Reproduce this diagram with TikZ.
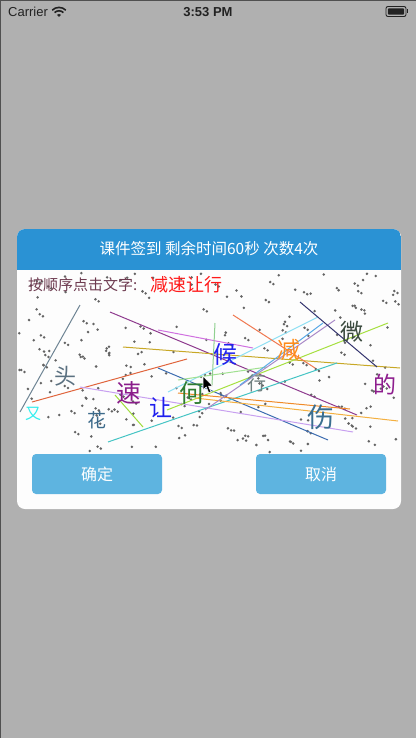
\documentclass[tikz,border=0pt]{standalone}
\usepackage{fontspec}
\setmainfont{Liberation Sans}
\newfontfamily\cjk{Noto Sans CJK SC}
\definecolor{bgc}{HTML}{B0B0B0}
\definecolor{edgec}{HTML}{505050}
\definecolor{hdr}{HTML}{2A92D4}
\definecolor{body}{HTML}{FDFDFD}
\definecolor{btn}{HTML}{5EB4E0}
\definecolor{dotc}{HTML}{646464}
\definecolor{instr}{HTML}{6E3B50}
\definecolor{redc}{HTML}{FF1A1A}
\definecolor{sbar}{HTML}{222222}
\tikzset{
  ch/.style={inner sep=0pt, font=\cjk\fontsize{#1}{#1}\selectfont},
  noise/.style={line width=1pt},
  speck/.style={fill=dotc},
}
\begin{document}
\begin{tikzpicture}[x=1pt,y=-1pt]
\useasboundingbox (0,0) rectangle (416,738);
% background overlay
\fill[bgc] (0,0) rectangle (416,738);
\draw[edgec,line width=1.2pt] (0.6,738) -- (0.6,0.6) -- (416,0.6);
% status bar
\node[anchor=west,inner sep=0pt,text=sbar,font=\fontsize{13}{13}\selectfont] (carrier) at (8,12) {Carrier};
\fill[sbar] (59,17) -- ++(-45:3) arc (-45:-135:3) -- cycle;
\draw[sbar,line width=1.6pt] ([shift={(-45:6.2)}]59,17) arc (-45:-135:6.2);
\draw[sbar,line width=1.6pt] ([shift={(-45:9.6)}]59,17) arc (-45:-135:9.6);
\node[inner sep=0pt,text=sbar,font=\bfseries\fontsize{13}{13}\selectfont] (clock) at (208,12) {3:53 PM};
\draw[sbar,line width=0.9pt,rounded corners=2] (386,6.5) rectangle (406,16.5);
\fill[sbar,rounded corners=1] (387.8,8.3) rectangle (404.2,14.7);
\fill[sbar] (407,9.5) rectangle (408.3,13.5);
% dialog
\fill[body,rounded corners=8] (17,229) rectangle (401,509);
\begin{scope}
  \clip[rounded corners=8] (17,229) rectangle (401,509);
  \fill[hdr] (17,229) rectangle (401,270);
\end{scope}
\node[inner sep=0pt,text=white,font=\cjk\fontsize{15.5}{16}\selectfont] (title) at (209,249) {课件签到 剩余时间60秒 次数4次};
% noise dots
\pgfmathsetseed{4242}
\foreach \i in {1,...,170}{
  \pgfmathsetmacro\dx{19+380*rnd}
  \pgfmathsetmacro\dy{273+180*rnd}
  \fill[speck] (\dx,\dy-1.4) -- (\dx+1.4,\dy) -- (\dx,\dy+1.4) -- (\dx-1.4,\dy) -- cycle;
}
\foreach \i in {1,...,60}{
  \pgfmathsetmacro\dx{19+376*rnd}
  \pgfmathsetmacro\dy{273+176*rnd}
  \fill[speck] (\dx,\dy-1.4) -- (\dx+1.4,\dy) -- (\dx,\dy+1.4) -- (\dx-1.4,\dy) -- cycle;
  \fill[speck] (\dx+3.2,\dy+0.6) -- (\dx+4.6,\dy+2) -- (\dx+3.2,\dy+3.4) -- (\dx+1.8,\dy+2) -- cycle;
}
% noise lines
\draw[noise,color={rgb,255:red,110;green,132;blue,148}] (80,305) -- (20,412);
\draw[noise,color={rgb,255:red,142;green,58;blue,142}] (110,312) -- (357,415);
\draw[noise,color={rgb,255:red,208;green,112;blue,224}] (158,330) -- (253,348);
\draw[noise,color={rgb,255:red,200;green,168;blue,38}] (123,347) -- (400,368);
\draw[noise,color={rgb,255:red,224;green,100;blue,60}] (32,402) -- (187,359);
\draw[noise,color={rgb,255:red,60;green,108;blue,176}] (158,368) -- (328,440);
\draw[noise,color={rgb,255:red,200;green,160;blue,240}] (80,387) -- (353,432);
\draw[noise,color={rgb,255:red,160;green,220;blue,60}] (115,395) -- (143,427);
\draw[noise,color={rgb,255:red,68;green,196;blue,196}] (108,442) -- (337,363);
\draw[noise,color={rgb,255:red,142;green,224;blue,244}] (168,392) -- (318,317);
\draw[noise,color={rgb,255:red,160;green,224;blue,144}] (178,380) -- (267,367);
\draw[noise,color={rgb,255:red,166;green,224;blue,64}] (167,410) -- (388,323);
\draw[noise,color={rgb,255:red,240;green,138;blue,40}] (178,393) -- (350,409);
\draw[noise,color={rgb,255:red,244;green,176;blue,64}] (195,398) -- (398,421);
\draw[noise,color={rgb,255:red,168;green,136;blue,200}] (205,410) -- (335,320);
\draw[noise,color={rgb,255:red,90;green,170;blue,230}] (240,385) -- (323,323);
\draw[noise,color={rgb,255:red,144;green,208;blue,144}] (215,323) -- (212,385);
\draw[noise,color={rgb,255:red,240;green,120;blue,80}] (233,315) -- (315,368);
\draw[noise,color={rgb,255:red,52;green,52;blue,110}] (300,302) -- (377,367);
% captcha characters
\node[ch=22,text={rgb,255:red,90;green,112;blue,128}] (c1) at (65,376) {头};
\node[ch=16,text={rgb,255:red,51;green,238;blue,238}] (c2) at (33,414) {又};
\node[ch=19,text={rgb,255:red,60;green,106;blue,138}] (c3) at (97,420) {花};
\node[ch=25,text={rgb,255:red,139;green,28;blue,139}] (c4) at (129,393) {速};
\node[ch=23,text={rgb,255:red,30;green,30;blue,238}] (c5) at (161,408) {让};
\node[ch=25,text={rgb,255:red,46;green,125;blue,50}] (c6) at (192,393) {何};
\node[ch=24,text={rgb,255:red,34;green,34;blue,238}] (c7) at (225,354) {候};
\node[ch=19,text={rgb,255:red,112;green,128;blue,128}] (c8) at (257,383) {行};
\node[ch=23,text={rgb,255:red,255;green,140;blue,26}] (c9) at (289,350) {减};
\node[ch=27,text={rgb,255:red,58;green,110;blue,144}] (c10) at (321,417) {伤};
\node[ch=23,text={rgb,255:red,60;green,76;blue,64}] (c11) at (352,332) {微};
\node[ch=23,text={rgb,255:red,142;green,30;blue,142}] (c12) at (385,385) {的};
% instruction
\node[anchor=west,inner sep=0pt,text=instr,font=\cjk\fontsize{15}{15}\selectfont] (instr) at (28,285) {按顺序点击文字:};
\node[anchor=west,inner sep=0pt,text=redc,font=\cjk\fontsize{18}{18}\selectfont] (target) at (150,285) {减速让行};
% buttons
\node[draw=none,fill=btn,rounded corners=4,minimum width=130pt,minimum height=40pt,inner sep=0pt,text=white,font=\cjk\fontsize{16}{16}\selectfont] (ok) at (97,474) {确定};
\node[draw=none,fill=btn,rounded corners=4,minimum width=130pt,minimum height=40pt,inner sep=0pt,text=white,font=\cjk\fontsize{16}{16}\selectfont] (cancel) at (321,474) {取消};
% mouse cursor
\filldraw[fill=black,draw=white,line width=0.6pt] (203,376) -- (203,390) -- (206.2,387) -- (208.8,393) -- (211,392) -- (208.6,386.2) -- (212.8,386.2) -- cycle;
\end{tikzpicture}
\end{document}
